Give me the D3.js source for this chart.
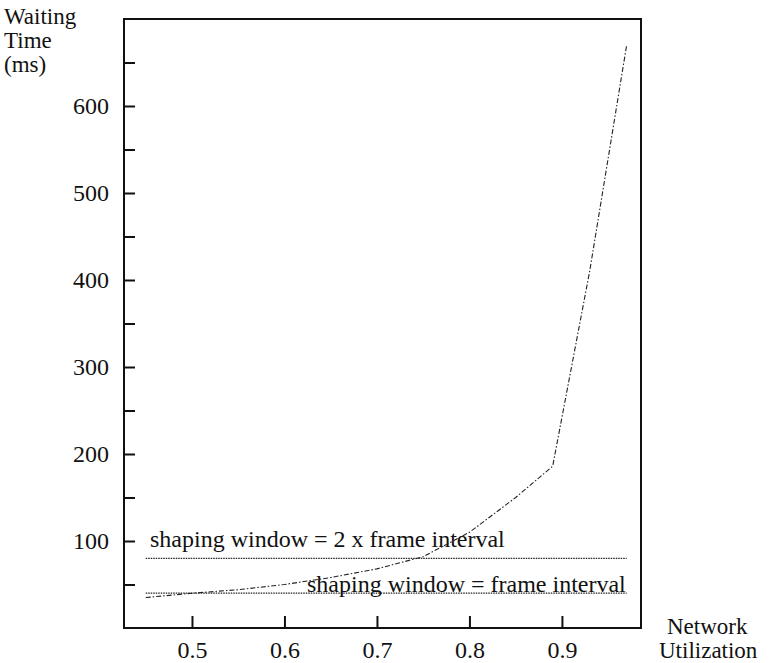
<!DOCTYPE html>
<html>
<head>
<meta charset="utf-8">
<script src="https://cdn.jsdelivr.net/npm/d3@7"></script>
<style>
  body { margin: 0; background: #fff; }
  svg text { font-family: "Liberation Serif", "Times New Roman", serif; fill: #111; }
</style>
</head>
<body>
<script>
// waiting time vs network utilization
const utilization = [0.45, 0.5, 0.55, 0.6, 0.65, 0.7, 0.75, 0.8, 0.85, 0.89, 0.93, 0.97];
const waitingTime = [35, 40, 44, 50, 58, 68, 82, 110, 150, 186, 410, 670];

const windowLabels = ["shaping window = frame interval", "shaping window = 2 x frame interval"];
const windowValues = [40, 80];

const xTicks = [0.5, 0.6, 0.7, 0.8, 0.9];
const yTicks = d3.range(50, 700, 50);

const width = 770;
const height = 663;
const plotLeft = 124, plotRight = 641, plotTop = 19, plotBottom = 628;

const svg = d3.select("body")
  .append("svg")
  .attr("width", width)
  .attr("height", height);

const xScale = d3.scaleLinear().domain([0.4265, 0.9855]).range([plotLeft, plotRight]);
const yScale = d3.scaleLinear().domain([0, 700]).range([plotBottom, plotTop]);

const xAxis = d3.axisBottom(xScale)
  .tickValues(xTicks)
  .tickSizeInner(-12)
  .tickSizeOuter(0)
  .tickPadding(13)
  .tickFormat(d3.format(".1f"));

const yAxis = d3.axisLeft(yScale)
  .tickValues(yTicks)
  .tickSizeInner(-11)
  .tickSizeOuter(0)
  .tickPadding(15)
  .tickFormat((d) => (d % 100 === 0 ? d : ""));

const gx = svg.append("g")
  .attr("transform", "translate(0," + plotBottom + ")")
  .call(xAxis);
const gy = svg.append("g")
  .attr("transform", "translate(" + plotLeft + ",0)")
  .call(yAxis);

[gx, gy].forEach((g) => {
  g.attr("font-family", null);
  g.select(".domain").remove();
  g.selectAll("line").attr("stroke", "#111").attr("stroke-width", 2);
  g.selectAll("text")
    .attr("font-size", 24)
    .attr("fill", "#111");
});

// frame
svg.append("rect")
  .attr("x", plotLeft)
  .attr("y", plotTop)
  .attr("width", plotRight - plotLeft)
  .attr("height", plotBottom - plotTop)
  .attr("fill", "none")
  .attr("stroke", "#111")
  .attr("stroke-width", 2);

// shaping window lines
windowValues.forEach((v) => {
  svg.append("line")
    .attr("x1", xScale(utilization[0]))
    .attr("x2", xScale(utilization[utilization.length - 1]))
    .attr("y1", yScale(v))
    .attr("y2", yScale(v))
    .attr("stroke", "#222")
    .attr("stroke-width", 1.3)
    .attr("stroke-dasharray", "1.5,1");
});

svg.append("text")
  .attr("x", 150)
  .attr("y", yScale(windowValues[1]) - 11)
  .attr("font-size", 24)
  .text(windowLabels[1]);

svg.append("text")
  .attr("x", 307)
  .attr("y", yScale(windowValues[0]) - 1)
  .attr("font-size", 24)
  .text(windowLabels[0]);

// waiting time curve
const line = d3.line()
  .x((d, i) => xScale(utilization[i]))
  .y((d) => yScale(d));

svg.append("path")
  .datum(waitingTime)
  .attr("d", line)
  .attr("fill", "none")
  .attr("stroke", "#222")
  .attr("stroke-width", 1.1)
  .attr("stroke-dasharray", "5,2,1.5,2");

// axis titles
const yTitle = svg.append("text").attr("x", 4).attr("y", 24).attr("font-size", 23);
["Waiting", "Time", "(ms)"].forEach((t, i) => {
  yTitle.append("tspan").attr("x", 4).attr("dy", i === 0 ? 0 : 24).text(t);
});

const xTitle = svg.append("text").attr("x", 667).attr("y", 634).attr("font-size", 23);
xTitle.append("tspan").attr("x", 667).attr("dy", 0).text("Network");
xTitle.append("tspan").attr("x", 659).attr("dy", 24).text("Utilization");
</script>
</body>
</html>
